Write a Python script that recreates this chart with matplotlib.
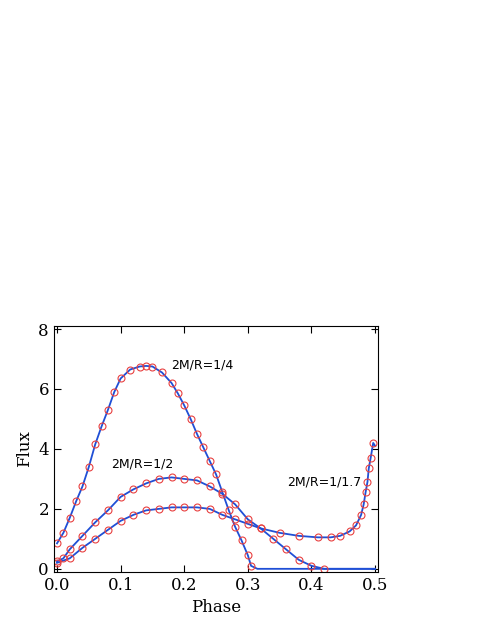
import matplotlib
matplotlib.use("Agg")
import matplotlib.pyplot as plt

x_a = [0,0.01,0.02,0.03,0.04,0.05,0.06,0.07,0.08,0.09,0.10,0.115,0.13,0.14,0.15,0.165,0.18,0.19,0.20,0.21,0.22,0.23,0.24,0.25,0.26,0.27,0.28,0.29,0.30,0.305]
y_a = [0.85,1.2,1.7,2.25,2.75,3.4,4.15,4.75,5.3,5.9,6.35,6.65,6.75,6.77,6.75,6.55,6.2,5.85,5.45,5.0,4.5,4.05,3.6,3.15,2.55,1.95,1.4,0.95,0.45,0.1]
x_b = [0,0.01,0.02,0.04,0.06,0.08,0.10,0.12,0.14,0.16,0.18,0.20,0.22,0.24,0.26,0.28,0.30,0.32,0.34,0.36,0.38,0.40,0.42]
y_b = [0.25,0.35,0.65,1.1,1.55,1.95,2.4,2.65,2.85,3.0,3.05,3.0,2.95,2.75,2.5,2.15,1.65,1.35,1.0,0.65,0.3,0.1,0.0]
x_c = [0,0.02,0.04,0.06,0.08,0.10,0.12,0.14,0.16,0.18,0.20,0.22,0.24,0.26,0.28,0.30,0.32,0.35,0.38,0.41,0.43,0.445,0.46,0.47,0.478,0.482,0.485,0.488,0.49,0.493,0.497]
y_c = [0.2,0.35,0.7,1.0,1.3,1.6,1.8,1.95,2.0,2.05,2.05,2.05,2.0,1.8,1.65,1.5,1.35,1.2,1.1,1.05,1.05,1.1,1.25,1.45,1.8,2.15,2.55,2.9,3.35,3.7,4.2]

fig = plt.figure(figsize=(4.85, 6.27), dpi=100)
ax = fig.add_axes([0.111, 0.088, 0.669, 0.392])
blue = "#1f4fd6"
ax.plot(x_a + [0.315, 0.5], y_a + [0.0, 0.0], color=blue, lw=1.3)
ax.plot(x_b + [0.43, 0.5], y_b + [0.0, 0.0], color=blue, lw=1.3)
ax.plot(x_c + [0.5], y_c + [4.1], color=blue, lw=1.3)
for xs, ys in [(x_a, y_a), (x_b, y_b), (x_c, y_c)]:
    ax.plot(xs, ys, 'o', mfc='none', mec='#e84040', ms=5, mew=0.8)
ax.set_xlim(-0.005, 0.505)
ax.set_ylim(-0.1, 8.1)
ax.set_xticks([0, 0.1, 0.2, 0.3, 0.4, 0.5])
ax.set_xticklabels(["0.0", "0.1", "0.2", "0.3", "0.4", "0.5"])
ax.set_yticks([0, 2, 4, 6, 8])
ax.tick_params(direction='in', top=True, right=True, length=5, labelsize=12)
for lab in ax.get_xticklabels() + ax.get_yticklabels():
    lab.set_family("DejaVu Serif")
ax.set_xlabel("Phase", family="DejaVu Serif", fontsize=12)
ax.set_ylabel("Flux", family="DejaVu Serif", fontsize=12)
ax.text(0.228, 6.8, "2M/R=1/4", fontsize=9, ha='center', va='center')
ax.text(0.134, 3.5, "2M/R=1/2", fontsize=9, ha='center', va='center')
ax.text(0.42, 2.9, "2M/R=1/1.7", fontsize=9, ha='center', va='center')
fig.savefig("out.png", dpi=100)
